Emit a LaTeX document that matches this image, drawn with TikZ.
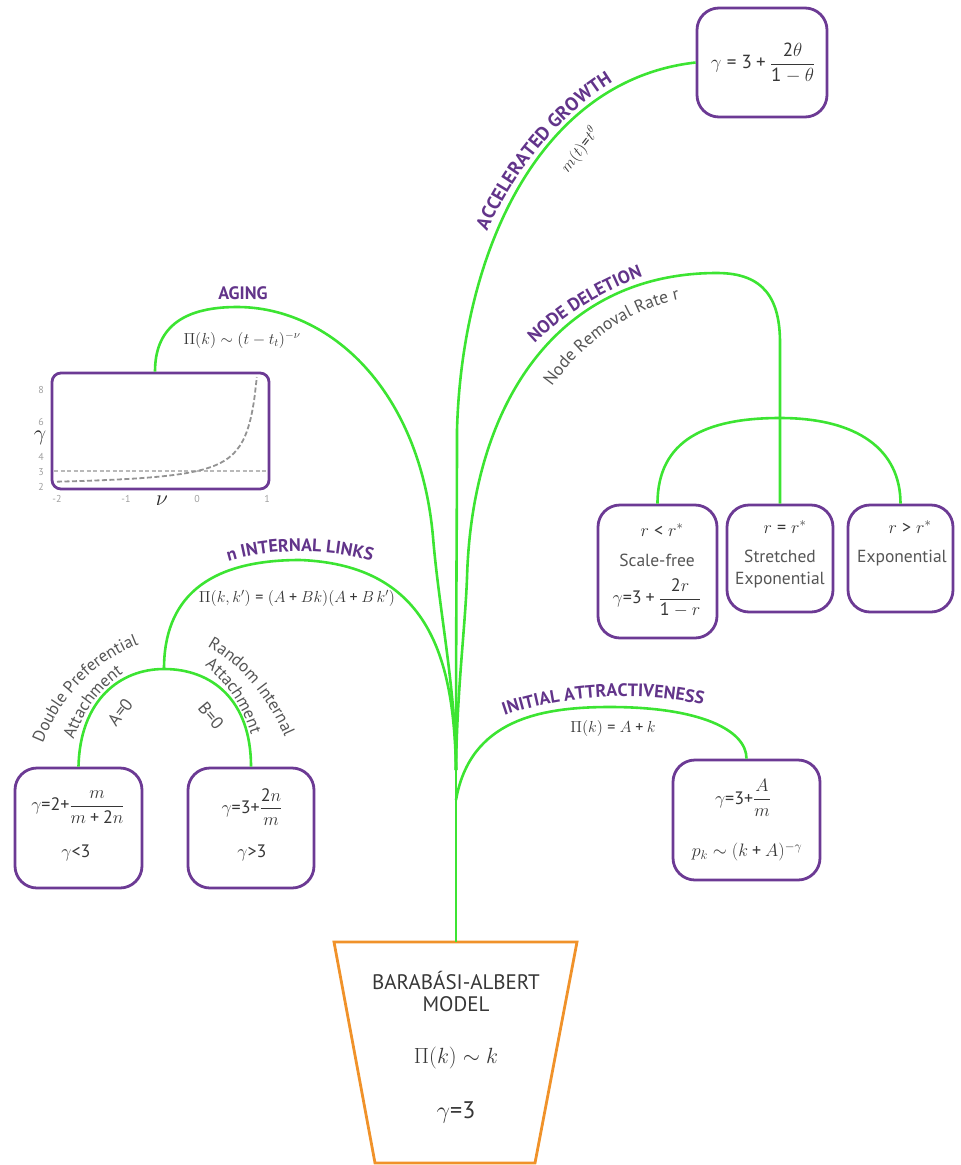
\RequirePackage{fix-cm}
\documentclass[tikz,border=0pt]{standalone}
\usepackage{amsmath}
\usepackage{fontspec}
\setmainfont{PT Sans}
\setsansfont{PT Sans}
\newfontfamily\digfont{PT Sans}[NFSSFamily=ptsd]
\DeclareSymbolFont{sdig}{TU}{ptsd}{m}{n}
\AtBeginDocument{%
\DeclareMathSymbol{0}{\mathalpha}{sdig}{`0}%
\DeclareMathSymbol{1}{\mathalpha}{sdig}{`1}%
\DeclareMathSymbol{2}{\mathalpha}{sdig}{`2}%
\DeclareMathSymbol{3}{\mathalpha}{sdig}{`3}%
\DeclareMathSymbol{4}{\mathalpha}{sdig}{`4}%
\DeclareMathSymbol{5}{\mathalpha}{sdig}{`5}%
\DeclareMathSymbol{6}{\mathalpha}{sdig}{`6}%
\DeclareMathSymbol{7}{\mathalpha}{sdig}{`7}%
\DeclareMathSymbol{8}{\mathalpha}{sdig}{`8}%
\DeclareMathSymbol{9}{\mathalpha}{sdig}{`9}%
\DeclareMathSymbol{=}{\mathrel}{sdig}{`=}%
\DeclareMathSymbol{+}{\mathbin}{sdig}{`+}%
\DeclareMathSymbol{<}{\mathrel}{sdig}{`<}%
\DeclareMathSymbol{>}{\mathrel}{sdig}{`>}%
}
\usetikzlibrary{decorations.text,calc}
\definecolor{grn}{RGB}{60,228,50}
\definecolor{bpurp}{RGB}{108,58,148}
\definecolor{lpurp}{RGB}{98,52,138}
\definecolor{orng}{RGB}{240,146,42}
\definecolor{gtxt}{RGB}{85,85,85}
\definecolor{ftxt}{RGB}{55,55,55}
\newcommand\purplefmt{\fontsize{18}{21}\selectfont\bfseries\color{lpurp}}
\newcommand\bigpurplefmt{\fontsize{19}{22}\selectfont\bfseries\color{lpurp}}
\newcommand\grayfmt{\fontsize{17.5}{20}\selectfont\color{gtxt}}
\newcommand\sgrayfmt{\fontsize{17}{20}\selectfont\color{gtxt}}
\begin{document}
\begin{tikzpicture}[x=1pt,y=-1pt,
  branch/.style={draw=grn,line width=2.6pt},
  box/.style={draw=bpurp,line width=2.8pt,rounded corners=22pt,inner sep=0pt},
  fml/.style={text=ftxt,font=\fontsize{18}{22}\selectfont,inner sep=0pt},
  lfml/.style={text=ftxt,font=\fontsize{16}{19}\selectfont,inner sep=0pt},
  glbl/.style={text=gtxt,font=\fontsize{17.5}{17}\selectfont,inner sep=0pt,align=center},
  plbl/.style={text=lpurp,font=\fontsize{18}{21}\selectfont\bfseries,inner sep=0pt},
  ticklbl/.style={text=gray!75,font=\fontsize{10}{11}\selectfont,inner sep=0pt},
  axsym/.style={text=black!85,font=\fontsize{22}{24}\selectfont,inner sep=0pt},
  ptxt/.style={decorate,decoration={text along path,text align=center,text={#1}}}
]
\useasboundingbox (0,0) rectangle (961,1165);

% ---------- pot ----------
\draw[draw=orng,line width=2.8pt,line join=miter] (334,942) -- (577,942) -- (535,1163) -- (375,1163) -- cycle;
\coordinate (pottop) at (456,942);
\node[text=ftxt,font=\fontsize{21}{22}\selectfont,align=center,inner sep=0pt] (ba) at (456,991) {BARABÁSI-ALBERT\\MODEL};
\node[fml,font=\fontsize{22}{26}\selectfont] (bapi) at (456,1058) {$\Pi(k)\sim k$};
\node[fml,font=\fontsize{24}{28}\selectfont] (bag) at (456,1112) {$\gamma{=}3$};

% ---------- trunk ----------
\coordinate (fork) at (456,770);
\coordinate (forkb) at (456,800);
\draw[branch] (pottop) -- (forkb) -- (fork);

% ---------- boxes ----------
\node[box,minimum width=130pt,minimum height=109pt] (accbox) at (762,62.5) {};
\node[box,rounded corners=9pt,minimum width=217pt,minimum height=116pt] (agebox) at (160.5,431) {};
\node[box,minimum width=127pt,minimum height=120pt] (dblbox) at (78.5,828) {};
\node[box,minimum width=126pt,minimum height=120pt] (rndbox) at (251,828) {};
\node[box,minimum width=119pt,minimum height=133pt] (ltbox) at (657.5,571.5) {};
\node[box,minimum width=106pt,minimum height=107pt] (eqbox) at (780,558.5) {};
\node[box,minimum width=105pt,minimum height=107pt] (gtbox) at (900.5,558.5) {};
\node[box,minimum width=147pt,minimum height=120pt] (inbox) at (746.5,820) {};

% ---------- branches ----------
% accelerated growth
\draw[branch] (fork) .. controls (456,600) and (457,520) .. (457,430)
  .. controls (462,250) and (540,80) .. (accbox.west);
% aging
\coordinate (ageend) at ($(agebox.north west)!0.475!(agebox.north east)$);
\draw[branch] (fork) .. controls (456,690) and (439,610) .. (433,537)
  .. controls (420,390) and (330,307) .. (237,307)
  .. controls (180,307) and (155,330) .. (ageend);
% n internal links
\coordinate (nj) at (164,669);
\draw[branch] (fork) .. controls (454,660) and (430,565) .. (300,560)
  .. controls (205,560) and (164,600) .. (nj);
\draw[branch] (dblbox.north) .. controls (80,700) and (120,669) .. (nj)
  .. controls (212,669) and (251,700) .. (rndbox.north);
% node deletion
\coordinate (ndj) at (780,418);
\draw[branch] (fork) .. controls (457,690) and (465,630) .. (467,578)
  .. controls (472,400) and (560,273) .. (717,273)
  .. controls (765,273) and (780,300) .. (780,343) -- (ndj) -- (eqbox.north);
\draw[branch] (ltbox.north) .. controls (657.5,440) and (706,418) .. (ndj)
  .. controls (858,418) and (900.5,450) .. (gtbox.north);
% initial attractiveness
\draw[branch] (forkb) .. controls (470,720) and (540,707) .. (610,707)
  .. controls (700,707) and (746.5,730) .. (inbox.north);

% ---------- accelerated growth texts ----------
\path[ptxt={|\bigpurplefmt|ACCELERATED GROWTH}] (473,268) .. controls (498,190) and (560,100) .. (648,64);
\node[lfml,rotate=52] (mt) at (580,150) {$m(t){=}t^{\theta}$};
\node[fml,font=\fontsize{19}{23}\selectfont] (accf) at (763,63) {$\gamma = 3+\dfrac{2\theta}{1-\theta}$};

% ---------- aging texts ----------
\node[plbl] (agelbl) at (243,293) {AGING};
\node[lfml] (agef) at (242,340) {$\Pi(k)\sim(t-t_t)^{-\nu}$};
% plot
\draw[gray!55,line width=1.2pt,dash pattern=on 4pt off 2.5pt] (54,471) -- (267,471);
\draw[gray!85,line width=1.8pt,dash pattern=on 5pt off 2.5pt] plot[domain=-2:0.855,samples=80,smooth] ({57+70*(\x+2)},{487-16*(1/(1-\x))});
\node[ticklbl] (t8) at (41,390) {8};
\node[ticklbl] (t6) at (41,422) {6};
\node[ticklbl] (t4) at (41,457) {4};
\node[ticklbl] (t3) at (41,472) {3};
\node[ticklbl] (t2) at (41,487) {2};
\node[axsym] (gsym) at (40,438) {$\gamma$};
\node[ticklbl] (xm2) at (57,499) {-2};
\node[ticklbl] (xm1) at (126,499) {-1};
\node[ticklbl] (x0) at (197,499) {0};
\node[ticklbl] (x1) at (267,499) {1};
\node[axsym] (nsym) at (162,501) {$\nu$};

% ---------- n internal links texts ----------
\path[ptxt={|\purplefmt|n INTERNAL LINKS}] (205,570) .. controls (258,545) and (342,545) .. (395,570);
\node[lfml] (intf) at (297,598) {$\Pi(k,k')=(A+Bk)(A+B\,k')$};
\path[ptxt={|\sgrayfmt|Double Preferential}] (36,762) .. controls (55,700) and (95,655) .. (158,638);
\path[ptxt={|\sgrayfmt|Attachment}] (72,745) .. controls (82,712) and (100,688) .. (128,670);
\node[glbl,rotate=52] (a0) at (120,712) {A=0};
\path[ptxt={|\sgrayfmt|Random Internal}] (190,638) .. controls (232,655) and (268,690) .. (292,755);
\path[ptxt={|\sgrayfmt|Attachment}] (196,660) .. controls (222,676) and (243,702) .. (254,745);
\node[glbl,rotate=-50] (b0) at (211,716) {B=0};
\node[fml] (dblf) at (78,807) {$\gamma{=}2{+}\dfrac{m}{m+2n}$};
\node[fml] (dblg) at (76,853) {$\gamma{<}3$};
\node[fml] (rndf) at (252,807) {$\gamma{=}3{+}\dfrac{2n}{m}$};
\node[fml] (rndg) at (252,853) {$\gamma{>}3$};

% ---------- node deletion texts ----------
\path[ptxt={|\purplefmt|NODE DELETION}] (508,372) .. controls (555,316) and (612,282) .. (680,265);
\path[ptxt={|\grayfmt|Node Removal Rate r}] (538,408) .. controls (575,345) and (635,300) .. (705,296);
\node[fml] (ltr) at (662,530) {$r<r^{*}$};
\node[glbl] (ltsf) at (657,560) {Scale-free};
\node[fml] (ltf) at (657,598) {$\gamma{=}3+\dfrac{2r}{1-r}$};
\node[fml] (eqr) at (785,527) {$r=r^{*}$};
\node[glbl,font=\fontsize{17.5}{22}\selectfont] (eqse) at (780,569) {Stretched\\Exponential};
\node[fml] (gtr) at (910,527) {$r>r^{*}$};
\node[glbl] (gtex) at (902,558) {Exponential};

% ---------- initial attractiveness texts ----------
\path[ptxt={|\purplefmt|INITIAL ATTRACTIVENESS}] (478,726) .. controls (552,692) and (658,687) .. (730,713);
\node[lfml] (inpi) at (613,728) {$\Pi(k)=A+k$};
\node[fml] (inf) at (743,798) {$\gamma{=}3{+}\dfrac{A}{m}$};
\node[fml] (inp) at (747,852) {$p_k\sim(k+A)^{-\gamma}$};
\end{tikzpicture}
\end{document}
